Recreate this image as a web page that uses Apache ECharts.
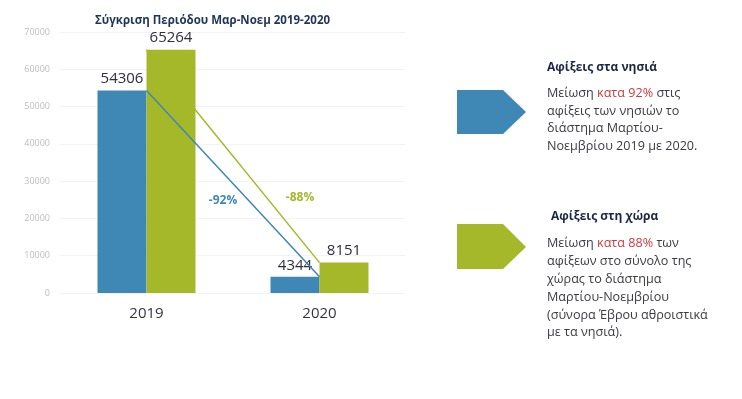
<!DOCTYPE html>
<html>
<head>
<meta charset="utf-8">
<script src="https://cdn.jsdelivr.net/npm/echarts@6/dist/echarts.min.js"></script>
<style>
  html, body { margin: 0; padding: 0; background: #fff; }
  #chart { width: 742px; height: 399px; }
</style>
</head>
<body>
<div id="chart"></div>
<script>
// data
var years = ['2019', '2020']
var islands = [54306, 4344]   // Αφίξεις στα νησιά
var country = [65264, 8151]   // Αφίξεις στη χώρα
var yTicks = { min: 0, max: 70000, interval: 10000 }

var blue = '#3f87b5'
var green = '#a5b82a'
var font = '"Open Sans", "Noto Sans", sans-serif'

function pct(arr) {
  return Math.round((arr[1] - arr[0]) / arr[0] * 100) + '%'
}

var chart = echarts.init(document.getElementById('chart'))

chart.setOption({
  animation: false,
  textStyle: { fontFamily: font },
  title: {
    text: 'Σύγκριση Περιόδου Μαρ-Νοεμ 2019-2020',
    left: 90,
    top: 10,
    textStyle: { fontSize: 11.5, fontWeight: 'bold', color: '#1f3558', fontFamily: font }
  },
  grid: { left: 60, right: 336, top: 32, bottom: 106 },
  xAxis: {
    type: 'category',
    data: years,
    axisLine: { show: false },
    axisTick: { show: false },
    axisLabel: { fontSize: 15, color: '#333344', margin: 13, fontFamily: font }
  },
  yAxis: {
    type: 'value',
    min: yTicks.min,
    max: yTicks.max,
    interval: yTicks.interval,
    axisLine: { show: false },
    axisTick: { show: false },
    axisLabel: { fontSize: 9, color: '#bdbdbd', margin: 10, fontFamily: font, formatter: function (v) { return String(v) } },
    splitLine: { lineStyle: { color: '#f3f3f3', width: 1 } }
  },
  series: [
    {
      name: 'Αφίξεις στα νησιά',
      type: 'bar',
      barWidth: 49,
      barGap: '0%',
      z: 2,
      itemStyle: { color: blue },
      label: { show: true, position: 'top', distance: 4, fontSize: 15, color: '#2e2e3e', fontFamily: font },
      data: islands
    },
    {
      name: 'Αφίξεις στη χώρα',
      type: 'bar',
      barWidth: 49,
      barGap: '0%',
      z: 2,
      itemStyle: { color: green },
      label: { show: true, position: 'top', distance: 4, fontSize: 15, color: '#2e2e3e', fontFamily: font },
      data: country
    },
    {
      type: 'line',
      z: 1,
      symbol: 'none',
      lineStyle: { color: green, width: 1.5 },
      data: country
    },
    {
      type: 'line',
      z: 3,
      symbol: 'none',
      lineStyle: { color: blue, width: 1.5 },
      data: islands
    }
  ],
  graphic: [
    { type: 'text', x: 223, y: 201, style: { text: pct(islands), fill: blue, font: 'bold 12px ' + font, textAlign: 'center', textVerticalAlign: 'middle' } },
    { type: 'text', x: 300, y: 198, style: { text: pct(country), fill: green, font: 'bold 12px ' + font, textAlign: 'center', textVerticalAlign: 'middle' } },
    { type: 'polygon', shape: { points: [[457, 90], [503, 90], [526, 112], [503, 134], [457, 134]] }, style: { fill: blue } },
    { type: 'polygon', shape: { points: [[457, 224], [503, 224], [526, 247], [503, 269], [457, 269]] }, style: { fill: green } },
    { type: 'text', x: 547, y: 68, style: { text: 'Αφίξεις στα νησιά', fill: '#1c2747', font: 'bold 12px ' + font, textVerticalAlign: 'middle' } },
    { type: 'text', x: 547, y: 85, style: {
      text: 'Μείωση {r|κατα 92%} στις\nαφίξεις των νησιών το\nδιάστημα Μαρτίου-\nΝοεμβρίου 2019 με 2020.',
      fill: '#3a3a44', font: '12.6px ' + font, lineHeight: 17.5,
      rich: { r: { fill: '#d0393f', font: '12.6px ' + font, lineHeight: 17.5 } }
    } },
    { type: 'text', x: 551, y: 217, style: { text: 'Αφίξεις στη χώρα', fill: '#1c2747', font: 'bold 12px ' + font, textVerticalAlign: 'middle' } },
    { type: 'text', x: 547, y: 235, style: {
      text: 'Μείωση {r|κατα 88%} των\nαφίξεων στο σύνολο της\nχώρας το διάστημα\nΜαρτίου-Νοεμβρίου\n(σύνορα Έβρου αθροιστικά\nμε τα νησιά).',
      fill: '#3a3a44', font: '12.6px ' + font, lineHeight: 17.8,
      rich: { r: { fill: '#d0393f', font: '12.6px ' + font, lineHeight: 17.8 } }
    } }
  ]
})
</script>
</body>
</html>
